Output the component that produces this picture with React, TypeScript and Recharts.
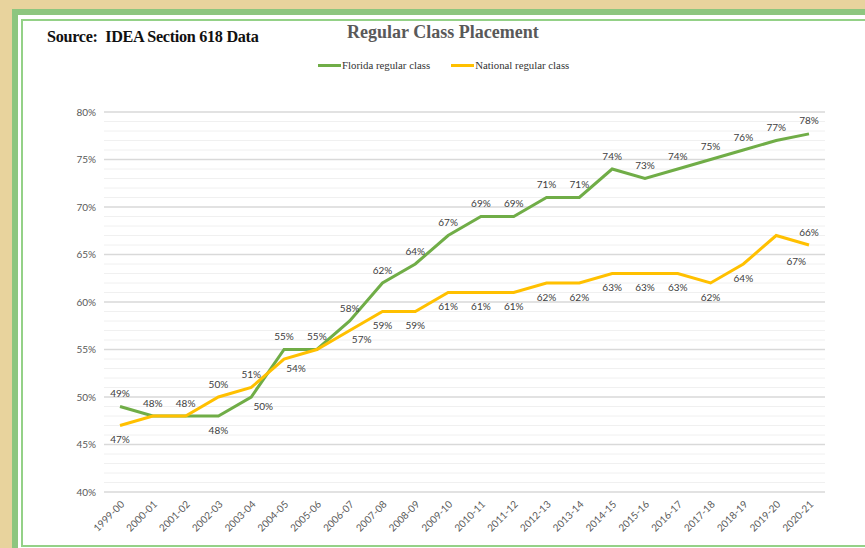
import React from 'react';
import { LineChart, Line, XAxis, YAxis, CartesianGrid, ReferenceLine, LabelList } from 'recharts';

const years = [
  '1999-00', '2000-01', '2001-02', '2002-03', '2003-04', '2004-05', '2005-06', '2006-07',
  '2007-08', '2008-09', '2009-10', '2010-11', '2011-12', '2012-13', '2013-14', '2014-15',
  '2015-16', '2016-17', '2017-18', '2018-19', '2019-20', '2020-21',
];
const florida = [49, 48, 48, 48, 50, 55, 55, 58, 62, 64, 67, 69, 69, 71, 71, 74, 73, 74, 75, 76, 77, 77.7];
const national = [47, 48, 48, 50, 51, 54, 55, 57, 59, 59, 61, 61, 61, 62, 62, 63, 63, 63, 62, 64, 67, 66];

// where each data label sits relative to its point
const floridaLabelPos = [
  'up', 'up', 'up', 'down', 'right', 'up', 'up', 'up', 'up', 'up', 'up',
  'up', 'up', 'up', 'up', 'up', 'up', 'up', 'up', 'up', 'up', 'up',
];
const nationalLabelPos = [
  'down', 'none', 'none', 'up', 'up', 'right', 'none', 'right', 'down', 'down', 'down',
  'down', 'down', 'down', 'down', 'down', 'down', 'down', 'down', 'down', 'far', 'up',
];

const majorTicks = [40, 45, 50, 55, 60, 65, 70, 75, 80];
const minorTicks = Array.from({ length: 41 }, (_, i) => 40 + i).filter((v) => v % 5 !== 0);

const data = years.map((year, i) => ({ year, florida: florida[i], national: national[i] }));

const GREEN = '#70ad47';
const YELLOW = '#ffc000';
const SANS = 'Lato, "Open Sans", sans-serif';
const SERIF = '"Liberation Serif", "DejaVu Serif", serif';

const makeLabel = (positions: string[]) => (props: any) => {
  const { x, y, value, index } = props;
  const p = positions[index];
  if (p === 'none' || x == null) return null;
  let dx = 0;
  let dy = -13;
  if (p === 'down') dy = 14;
  if (p === 'right') { dx = 12; dy = 9; }
  if (p === 'far') { dx = 20; dy = 26; }
  return (
    <text x={x + dx} y={y + dy} dy="0.35em" textAnchor="middle" fontSize={10} fill="#404040" fontFamily={SANS}>
      {Math.round(value)}%
    </text>
  );
};

const YearTick = ({ x, y, payload }: any) => (
  <g transform={`translate(${x + 5},${y + 5})`}>
    <text textAnchor="end" transform="rotate(-45)" fontSize={10} fill="#595959" fontFamily={SANS}>
      {payload.value}
    </text>
  </g>
);

export default function App() {
  return (
    <div style={{ position: 'absolute', left: 0, top: 0, width: 865, height: 548, overflow: 'hidden', background: '#e8d39d' }}>
      <div style={{ position: 'absolute', left: 12, top: 9, width: 920, height: 620, boxSizing: 'border-box', border: '6px solid #8dc67f', background: '#fff' }} />
      <div style={{ position: 'absolute', left: 21, top: 19, width: 900, height: 528, boxSizing: 'border-box', border: '2px solid #94d187' }} />
      <div style={{ position: 'absolute', left: 47, top: 28, fontFamily: SERIF, fontWeight: 'bold', fontSize: 16.2, color: '#111', whiteSpace: 'nowrap', letterSpacing: -0.3 }}>
        Source:&nbsp; IDEA Section 618 Data
      </div>
      <div style={{ position: 'absolute', left: 347, top: 22, fontFamily: SERIF, fontWeight: 'bold', fontSize: 18, color: '#595959', whiteSpace: 'nowrap' }}>
        Regular Class Placement
      </div>
      <div style={{ position: 'absolute', left: 318, top: 59, display: 'flex', alignItems: 'center', fontFamily: SERIF, fontSize: 10.8, color: '#333', whiteSpace: 'nowrap' }}>
        <span style={{ display: 'inline-block', width: 23, height: 3, background: GREEN, marginRight: 1 }} />
        <span style={{ marginRight: 21 }}>Florida regular class</span>
        <span style={{ display: 'inline-block', width: 23, height: 3, background: YELLOW, marginRight: 1 }} />
        <span>National regular class</span>
      </div>
      <div style={{ position: 'absolute', left: 0, top: 0 }}>
        <LineChart width={865} height={548} data={data} margin={{ top: 112, right: 40, left: 0, bottom: 0 }}>
          {minorTicks.map((v) => (
            <ReferenceLine key={v} y={v} stroke="#f0f0f0" strokeWidth={1} />
          ))}
          <CartesianGrid vertical={false} stroke="#d9d9d9" strokeWidth={1.5} />
          <XAxis
            dataKey="year"
            axisLine={false}
            tickLine={false}
            height={56}
            interval={0}
            padding={{ left: 16, right: 16 }}
            tick={<YearTick />}
          />
          <YAxis
            domain={[40, 80]}
            ticks={majorTicks}
            width={104}
            axisLine={false}
            tickLine={false}
            tickFormatter={(v) => `${v}%`}
            tick={{ fontSize: 10, fill: '#595959', fontFamily: SANS }}
          />
          <Line type="linear" dataKey="florida" stroke={GREEN} strokeWidth={3} dot={false} isAnimationActive={false}>
            <LabelList dataKey="florida" content={makeLabel(floridaLabelPos)} />
          </Line>
          <Line type="linear" dataKey="national" stroke={YELLOW} strokeWidth={3} dot={false} isAnimationActive={false}>
            <LabelList dataKey="national" content={makeLabel(nationalLabelPos)} />
          </Line>
        </LineChart>
      </div>
    </div>
  );
}
